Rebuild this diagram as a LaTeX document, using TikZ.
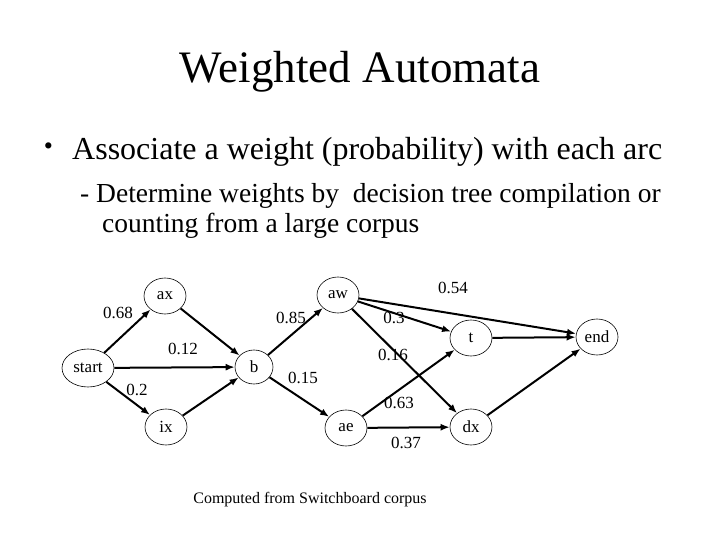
\documentclass[tikz,border=0pt]{standalone}
\usepackage{fontspec}
\setmainfont{Liberation Serif}
\usetikzlibrary{positioning, arrows.meta, shapes.geometric}

\begin{document}
\begin{tikzpicture}[
    x=1pt, y=-1pt,          % pixel coordinates, y downwards
    >={Latex[length=9pt, width=7pt]},
    state/.style={ellipse, draw, line width=0.6pt, minimum width=42pt,
                  minimum height=36pt, inner sep=0pt, font=\fontsize{17}{20}\selectfont},
    arc/.style={->, line width=2pt},
    weight/.style={font=\fontsize{17}{20}\selectfont, inner sep=0pt}
]
    \useasboundingbox (0,0) rectangle (720,540);

    % --- title and text ---
    \node [anchor=base] (title) at (360,83) {\fontsize{45}{50}\selectfont Weighted Automata};
    \node [anchor=center, inner sep=0pt] (bullet) at (48.5,149) {\fontsize{26}{28}\selectfont\textbullet};
    \node [anchor=base west, inner sep=0pt] (point) at (72,160)
        {\fontsize{32}{36}\selectfont Associate a weight (probability) with each arc};
    \node [anchor=base west, inner sep=0pt] (sub1) at (80,203)
        {\fontsize{27.5}{32}\selectfont - Determine weights by\ \ decision tree compilation or};
    \node [anchor=base west, inner sep=0pt] (sub2) at (102,233)
        {\fontsize{27.5}{32}\selectfont counting from a large corpus};

    % --- states ---
    \node [state, minimum width=52pt, minimum height=38pt] (start) at (88,368) {start};
    \node [state] (ax) at (165,296) {ax};
    \node [state] (ix) at (166,427) {ix};
    \node [state, minimum width=38pt, minimum height=34pt] (b) at (254,367) {b};
    \node [state] (aw) at (338,295) {aw};
    \node [state] (ae) at (346,428) {ae};
    \node [state] (t) at (471,338) {t};
    \node [state] (dx) at (471,427) {dx};
    \node [state] (end) at (597,337) {end};

    % --- arcs ---
    \draw [arc] (start) -- (ax);
    \draw [arc] (start) -- (b);
    \draw [arc] (start) -- (ix);
    \draw [arc] (ax) -- (b);
    \draw [arc] (ix) -- (b);
    \draw [arc] (b) -- (aw);
    \draw [arc] (b) -- (ae);
    \draw [arc] (aw) -- (end);
    \draw [arc] (aw) -- (t);
    \draw [arc] (aw) -- (dx);
    \draw [arc] (ae) -- (t);
    \draw [arc] (ae) -- (dx);
    \draw [arc] (t) -- (end);
    \draw [arc] (dx) -- (end);

    % --- weights ---
    \node [weight] (w068) at (118,313) {0.68};
    \node [weight] (w012) at (183,349) {0.12};
    \node [weight] (w020) at (137,390) {0.2};
    \node [weight] (w085) at (291,318) {0.85};
    \node [weight] (w015) at (303,378) {0.15};
    \node [weight] (w054) at (453,288) {0.54};
    \node [weight] (w030) at (394,318) {0.3};
    \node [weight] (w016) at (393,355) {0.16};
    \node [weight] (w063) at (399,403) {0.63};
    \node [weight] (w037) at (406,443) {0.37};

    \node [anchor=base, inner sep=0pt] (source) at (310,503)
        {\fontsize{16}{19}\selectfont Computed from Switchboard corpus};

\end{tikzpicture}
\end{document}
